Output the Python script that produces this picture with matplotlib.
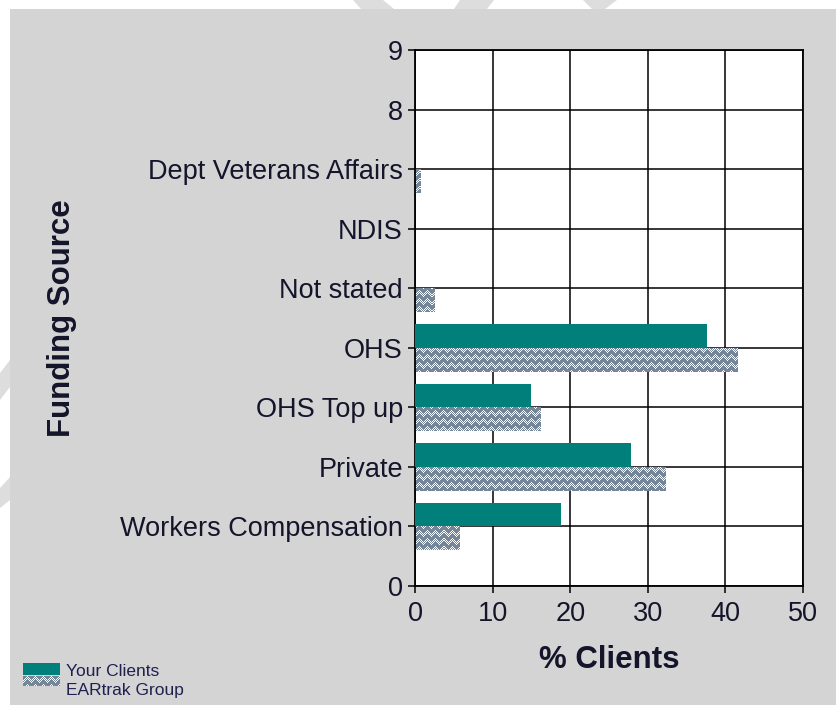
import numpy as np
import matplotlib
matplotlib.use("Agg")
import matplotlib.pyplot as plt
from matplotlib.patches import Rectangle, Polygon

plt.rcParams['font.family'] = ['Liberation Sans', 'DejaVu Sans']

# funding sources, bottom to top (y = 1..7)
sources = ["Workers Compensation", "Private", "OHS Top up", "OHS",
           "Not stated", "NDIS", "Dept Veterans Affairs"]
your_clients = [18.8, 27.8, 14.9, 37.6, 0.0, 0.0, 0.0]
eartrak_group = [5.7, 32.3, 16.2, 41.6, 2.5, 0.0, 0.7]

x_ticks = [0, 10, 20, 30, 40, 50]
y_tick_labels = ["0"] + sources + ["8", "9"]

TEAL = "#007f7b"
SLATE = np.array([0x74, 0x86, 0x98]) / 255.0
GREY_BG = "#d4d4d4"
TXT = "#14142a"

W, H, DPI = 837, 705, 100
fig = plt.figure(figsize=(W / DPI, H / DPI), dpi=DPI, facecolor="white")


def px(x, y):
    # pixel position (from top-left) -> figure fraction
    return x / W, 1 - y / H


# faint page watermark left over in the white margin
for poly in [
    [(353, 0), (383, 0), (394, 9), (361, 9)],
    [(460, 0), (494, 0), (487, 9), (454, 9)],
    [(583, 0), (617, 0), (605, 9), (592, 9)],
    [(0, 373), (10, 360), (10, 387), (0, 400)],
    [(0, 488), (10, 477), (10, 500), (0, 508)],
]:
    fig.patches.append(Polygon([px(*p) for p in poly], closed=True,
                               transform=fig.transFigure, facecolor="#dddddd",
                               edgecolor="none", zorder=-2))

# grey chart panel
x0, y0 = px(10, H)
x1, y1 = px(W, 9)
fig.patches.append(Rectangle((x0, y0), x1 - x0, y1 - y0, transform=fig.transFigure,
                             facecolor=GREY_BG, edgecolor="none", zorder=-1))

l, b = px(415.5, 586)
r, t = px(803, 50)
ax = fig.add_axes([l, b, r - l, t - b], zorder=2)
ax.set_facecolor("white")
ax.set_xlim(0, 50)
ax.set_ylim(0, 9)

ypos = np.arange(1, len(sources) + 1)
bar_h = 0.4
ax.barh(ypos + bar_h / 2, your_clients, height=bar_h, color=TEAL, zorder=3)
hatched = ax.barh(ypos - bar_h / 2, eartrak_group, height=bar_h,
                  color="none", zorder=3)

# woven fill for the group bars: dotted zigzag bands, one pixel per cell
ny, nx = 536, 388
rr, cc = np.mgrid[0:ny, 0:nx]
zig = np.abs((cc % 8) - 4)
mask = (((rr - zig) % 8) < 4) & (((rr + cc) % 2) == 0)
weave = np.where(mask[..., None], np.ones(3), SLATE)
for bar in hatched:
    if bar.get_width() <= 0:
        continue
    im = ax.imshow(weave, extent=(0, 50, 0, 9), origin="upper",
                   interpolation="nearest", aspect="auto", zorder=2.5)
    im.set_clip_path(bar)

ax.set_xticks(x_ticks)
ax.set_yticks(range(10))
ax.set_yticklabels(y_tick_labels)
ax.grid(True, color="black", linewidth=1.1, zorder=1)
ax.set_axisbelow(True)
ax.tick_params(axis="both", direction="out", length=5, width=1.1,
               color="black", labelsize=19.5, labelcolor=TXT)
ax.tick_params(axis="y", pad=4)
ax.tick_params(axis="x", pad=6)
for s in ax.spines.values():
    s.set_color("black")
    s.set_linewidth(1.3)

fig.text(*px(609, 660), "% Clients", ha="center", va="center",
         fontsize=22.5, fontweight="bold", color=TXT)
fig.text(*px(62, 318), "Funding Source", ha="center", va="center",
         rotation=90, fontsize=22.5, fontweight="bold", color=TXT)

# legend, bottom left
lx, ly = px(23, 675)
lw = 37 / W
lh = 12 / H
fig.patches.append(Rectangle((lx, ly), lw, lh, transform=fig.transFigure,
                             facecolor=TEAL, edgecolor="none", zorder=2))
lax = fig.add_axes([lx, px(0, 686)[1], lw, 10 / H], zorder=2)
lax.imshow(weave[:10, :37], interpolation="nearest", aspect="auto")
lax.axis("off")
fig.text(*px(66, 672), "Your Clients", va="center", fontsize=12.5, color="#202050")
fig.text(*px(66, 690), "EARtrak Group", va="center", fontsize=12.5, color="#202050")

fig.savefig("out.png", dpi=DPI, facecolor=fig.get_facecolor())
